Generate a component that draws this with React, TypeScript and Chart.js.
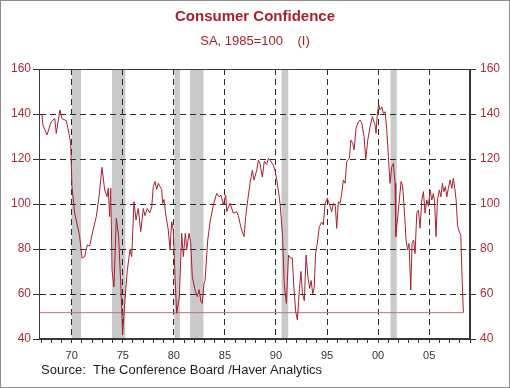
import React, { useEffect, useRef } from 'react';
import { Chart, registerables } from 'chart.js';

Chart.register(...registerables);

// ---- Data ----
const years: number[] = [
  1967.09, 1967.19, 1967.58, 1968.0, 1968.34, 1968.49, 1968.85, 1969.05, 1969.47, 1969.71, 1969.9,
  1970.03, 1970.29, 1970.55, 1970.78, 1971.01, 1971.27, 1971.53, 1971.76, 1972.09, 1972.41, 1972.67, 1972.97,
  1973.23, 1973.46, 1973.58, 1973.72, 1973.83, 1973.95, 1974.14, 1974.37, 1974.6, 1974.83, 1974.99, 1975.22, 1975.45, 1975.71, 1975.88,
  1976.1, 1976.3, 1976.52, 1976.76, 1977.01, 1977.18, 1977.4, 1977.64, 1977.84, 1977.99, 1978.16, 1978.32, 1978.48, 1978.65, 1978.81, 1978.91,
  1979.04, 1979.17, 1979.3, 1979.46, 1979.63, 1979.79, 1979.95, 1980.12, 1980.28, 1980.54, 1980.77, 1980.93, 1981.13, 1981.26, 1981.49, 1981.65, 1981.81,
  1982.08, 1982.3, 1982.47, 1982.66, 1982.79, 1982.96, 1983.06, 1983.32, 1983.55, 1983.87, 1984.2, 1984.43, 1984.62, 1984.85, 1985.08, 1985.18, 1985.5, 1985.83,
  1986.16, 1986.32, 1986.48, 1986.65, 1986.88, 1987.04, 1987.24, 1987.46, 1987.69, 1987.85, 1988.12, 1988.28, 1988.44, 1988.67, 1988.86, 1989.1, 1989.26, 1989.49, 1989.74, 1989.91,
  1990.08, 1990.23, 1990.4, 1990.65, 1990.81, 1991.02, 1991.23, 1991.43, 1991.6, 1991.76, 1991.94, 1992.1, 1992.3, 1992.45, 1992.6, 1992.78, 1992.95, 1993.12, 1993.3, 1993.45, 1993.6, 1993.75, 1993.88,
  1994.05, 1994.25, 1994.48, 1994.64, 1994.81, 1995.03, 1995.23, 1995.46, 1995.62, 1995.82, 1995.95, 1996.11, 1996.28, 1996.44, 1996.6, 1996.77, 1996.93, 1997.19, 1997.33, 1997.52, 1997.65, 1997.84, 1998.07, 1998.24, 1998.4, 1998.63, 1998.79, 1998.99, 1999.22, 1999.44, 1999.71, 1999.8, 1999.93,
  2000.07, 2000.2, 2000.36, 2000.52, 2000.69, 2000.85, 2001.01, 2001.17, 2001.34, 2001.5, 2001.66, 2001.73, 2001.99, 2002.25, 2002.4, 2002.55, 2002.74, 2002.89, 2003.03, 2003.2, 2003.33, 2003.48, 2003.62, 2003.79, 2003.95, 2004.11, 2004.28, 2004.44, 2004.6, 2004.77, 2004.93,
  2005.09, 2005.26, 2005.42, 2005.53, 2005.68, 2005.81, 2006.0, 2006.15, 2006.3, 2006.44, 2006.59, 2006.73, 2006.88, 2007.05, 2007.22, 2007.37, 2007.51, 2007.64, 2007.78, 2007.93, 2008.1, 2008.22, 2008.35,
];

const confidence: number[] = [
  139.6, 135, 130.7, 136.6, 138, 131.4, 141.8, 138, 137, 132, 127,
  107.7, 96, 90.7, 85.5, 75.9, 76.6, 81.8, 81.3, 88.4, 94.4, 103, 116.3,
  106.2, 103.2, 107, 94.4, 107, 70.7, 63.2, 93.6, 85.5, 61.8, 42, 58, 70.7, 79.6, 76.6,
  101, 92.9, 98, 87.7, 98, 94.8, 98, 96, 98.8, 107.7, 110, 106.5, 109.2, 107.7, 106.5, 100.3,
  102, 96.6, 93, 88.4, 79.6, 92.1, 88.4, 67.7, 51.4, 58.8, 87, 76.6, 87, 79.6, 87, 83, 67.7,
  61.8, 58.8, 62, 56.6, 55.8, 64.7, 66, 84, 92, 99.6, 104.7, 103.2, 104, 99.6, 104, 96.6, 100.3, 95.9,
  96.6, 94.8, 91.4, 88.4, 85.5, 94.4, 101.8, 109.2, 115, 110.7, 115, 119.6, 118, 112, 119, 117.6, 120.3, 119, 117.3, 115,
  110.7, 106.2, 100.3, 86, 64, 55.8, 77.3, 76, 76, 62.5, 52, 48.4, 62.5, 70, 60, 57, 77.3, 68, 62.5, 66, 60, 63, 78,
  82.5, 90, 92, 90.7, 100.3, 102.5, 100, 96.6, 100.3, 99, 89.2, 101, 100.3, 104.7, 110.7, 109.2, 118.8, 120.3, 128.4, 127, 124, 133.6, 136.6, 137.3, 136, 130, 119.6, 128.4, 134.4, 138.8, 135, 131.4, 140.3,
  144, 141.8, 143.2, 140.3, 141, 133, 121, 109.2, 116.6, 118, 109.2, 85.5, 97.3, 110, 108, 98.8, 84, 79.6, 82.5, 61.8, 82.5, 84, 78, 95.9, 97.3, 89.2, 101.8, 105.5, 95.9, 101.8, 99,
  106.2, 101.8, 104.7, 101, 85.5, 101.8, 106.2, 103.2, 109.2, 105.5, 107.7, 103.2, 106.9, 110.7, 106.9, 111.4, 106.9, 101.8, 90.5, 88, 86, 68, 51.7,
];

const referenceLevel = 51.7;

const recessionStarts: number[] = [1970.0, 1973.95, 1980.05, 1981.6, 1990.55, 2001.22];
const recessionEnds: number[] = [1970.92, 1975.25, 1980.6, 1982.9, 1991.2, 2001.83];

const xMin = 1966.8;
const xMax = 2009.0;
const xTickYears: number[] = [1970, 1975, 1980, 1985, 1990, 1995, 2000, 2005];
const xTickLabels: string[] = ['70', '75', '80', '85', '90', '95', '00', '05'];
const yTicks: number[] = [40, 60, 80, 100, 120, 140, 160];

const titleText = 'Consumer Confidence';
const subtitleText = 'SA, 1985=100    (I)';
const sourceText = 'Source:  The Conference Board /Haver Analytics';

const FONT = '"Liberation Sans", Arial, Helvetica, sans-serif';
const RED = 'rgb(168,32,46)';
const LABEL_RED = 'rgb(172,44,54)';
const GRID = '#2a2a2a';

const recessionPlugin = {
  id: 'recessions',
  beforeDraw(chart: any) {
    const { ctx, chartArea, scales } = chart;
    const x = scales.x;
    ctx.save();
    ctx.fillStyle = '#c9c9c9';
    for (let i = 0; i < recessionStarts.length; i++) {
      const a = x.getPixelForValue(recessionStarts[i]);
      const b = x.getPixelForValue(recessionEnds[i]);
      ctx.fillRect(a, chartArea.top, b - a, chartArea.bottom - chartArea.top);
    }
    ctx.restore();
  },
};

const framePlugin = {
  id: 'frameAndSource',
  afterDraw(chart: any) {
    const { ctx, chartArea } = chart;
    ctx.save();
    ctx.strokeStyle = '#3a3a3a';
    ctx.lineWidth = 1;
    ctx.strokeRect(
      Math.round(chartArea.left) + 0.5,
      Math.round(chartArea.top) + 0.5,
      Math.round(chartArea.right - chartArea.left) - 1,
      Math.round(chartArea.bottom - chartArea.top) - 1
    );
    ctx.fillStyle = '#1e1e1e';
    ctx.font = `13px ${FONT}`;
    ctx.textBaseline = 'middle';
    ctx.textAlign = 'left';
    ctx.fillText(sourceText, chartArea.left + 2, chartArea.bottom + 31);
    ctx.restore();
  },
};

export default function App() {
  const canvasRef = useRef<HTMLCanvasElement | null>(null);

  useEffect(() => {
    const canvas = canvasRef.current;
    if (!canvas) return;

    const mainPoints = years.map((yr, i) => ({ x: yr, y: confidence[i] }));
    const refPoints = [
      { x: xMin, y: referenceLevel },
      { x: years[years.length - 1], y: referenceLevel },
    ];

    const chart = new Chart(canvas, {
      type: 'line',
      data: {
        datasets: [
          {
            data: mainPoints,
            borderColor: RED,
            borderWidth: 1,
            pointRadius: 0,
            tension: 0,
            fill: false,
          },
          {
            data: refPoints,
            borderColor: 'rgb(200,110,112)',
            borderWidth: 1,
            pointRadius: 0,
            tension: 0,
            fill: false,
          },
        ],
      },
      options: {
        responsive: false,
        animation: false,
        devicePixelRatio: 1,
        layout: { padding: 0 },
        plugins: {
          legend: { display: false },
          tooltip: { enabled: false },
          title: {
            display: true,
            text: titleText,
            color: RED,
            font: { family: FONT, size: 15, weight: 'bold', lineHeight: 1.2 },
            padding: { top: 7, bottom: 8 },
          },
          subtitle: {
            display: true,
            text: subtitleText,
            color: RED,
            font: { family: FONT, size: 13, weight: 'normal', lineHeight: 1.2 },
            padding: { top: 0, bottom: 19.4 },
          },
        },
        scales: {
          x: {
            type: 'linear',
            min: xMin,
            max: xMax,
            afterBuildTicks: (scale: any) => {
              const t: any[] = [];
              for (let yr = Math.ceil(xMin); yr <= Math.floor(xMax); yr++) t.push({ value: yr });
              scale.ticks = t;
            },
            afterFit: (scale: any) => {
              scale.height = 48;
            },
            ticks: {
              autoSkip: false,
              maxRotation: 0,
              minRotation: 0,
              padding: 6,
              color: '#333',
              font: { family: FONT, size: 11 },
              callback: (v: any) => {
                const idx = xTickYears.indexOf(Number(v));
                return idx >= 0 ? xTickLabels[idx] : '';
              },
            },
            grid: {
              display: true,
              drawOnChartArea: true,
              drawTicks: true,
              tickLength: 4,
              tickColor: '#333',
              lineWidth: 1,
              color: (c: any) => (c.tick && xTickYears.includes(c.tick.value) ? GRID : 'rgba(0,0,0,0)'),
            },
            border: { display: true, color: '#333', dash: [6, 4] },
          },
          y: {
            type: 'linear',
            position: 'left',
            min: 40,
            max: 160,
            afterBuildTicks: (scale: any) => {
              scale.ticks = yTicks.map((v) => ({ value: v }));
            },
            afterFit: (scale: any) => {
              scale.width = 38;
            },
            ticks: {
              padding: 2,
              color: LABEL_RED,
              font: { family: FONT, size: 12 },
            },
            grid: {
              drawTicks: true,
              tickLength: 6,
              tickColor: '#333',
              color: (c: any) =>
                c.tick && c.tick.value > 40 && c.tick.value < 160 ? GRID : 'rgba(0,0,0,0)',
            },
            border: { display: true, color: '#333', dash: [6, 4] },
          },
          y2: {
            type: 'linear',
            position: 'right',
            min: 40,
            max: 160,
            afterBuildTicks: (scale: any) => {
              scale.ticks = yTicks.map((v) => ({ value: v }));
            },
            afterFit: (scale: any) => {
              scale.width = 39;
            },
            ticks: {
              padding: 4,
              color: LABEL_RED,
              font: { family: FONT, size: 12 },
            },
            grid: {
              drawOnChartArea: false,
              drawTicks: true,
              tickLength: 6,
              tickColor: '#333',
            },
            border: { display: true, color: '#333' },
          },
        },
      },
      plugins: [recessionPlugin, framePlugin],
    } as any);

    return () => {
      chart.destroy();
    };
  }, []);

  return (
    <div
      style={{
        position: 'absolute',
        left: 0,
        top: 0,
        width: 510,
        height: 388,
        boxSizing: 'border-box',
        border: '1px solid #8c8c8c',
        background: '#ffffff',
      }}
    >
      <canvas ref={canvasRef} width={508} height={386} style={{ display: 'block', width: 508, height: 386 }} />
    </div>
  );
}
